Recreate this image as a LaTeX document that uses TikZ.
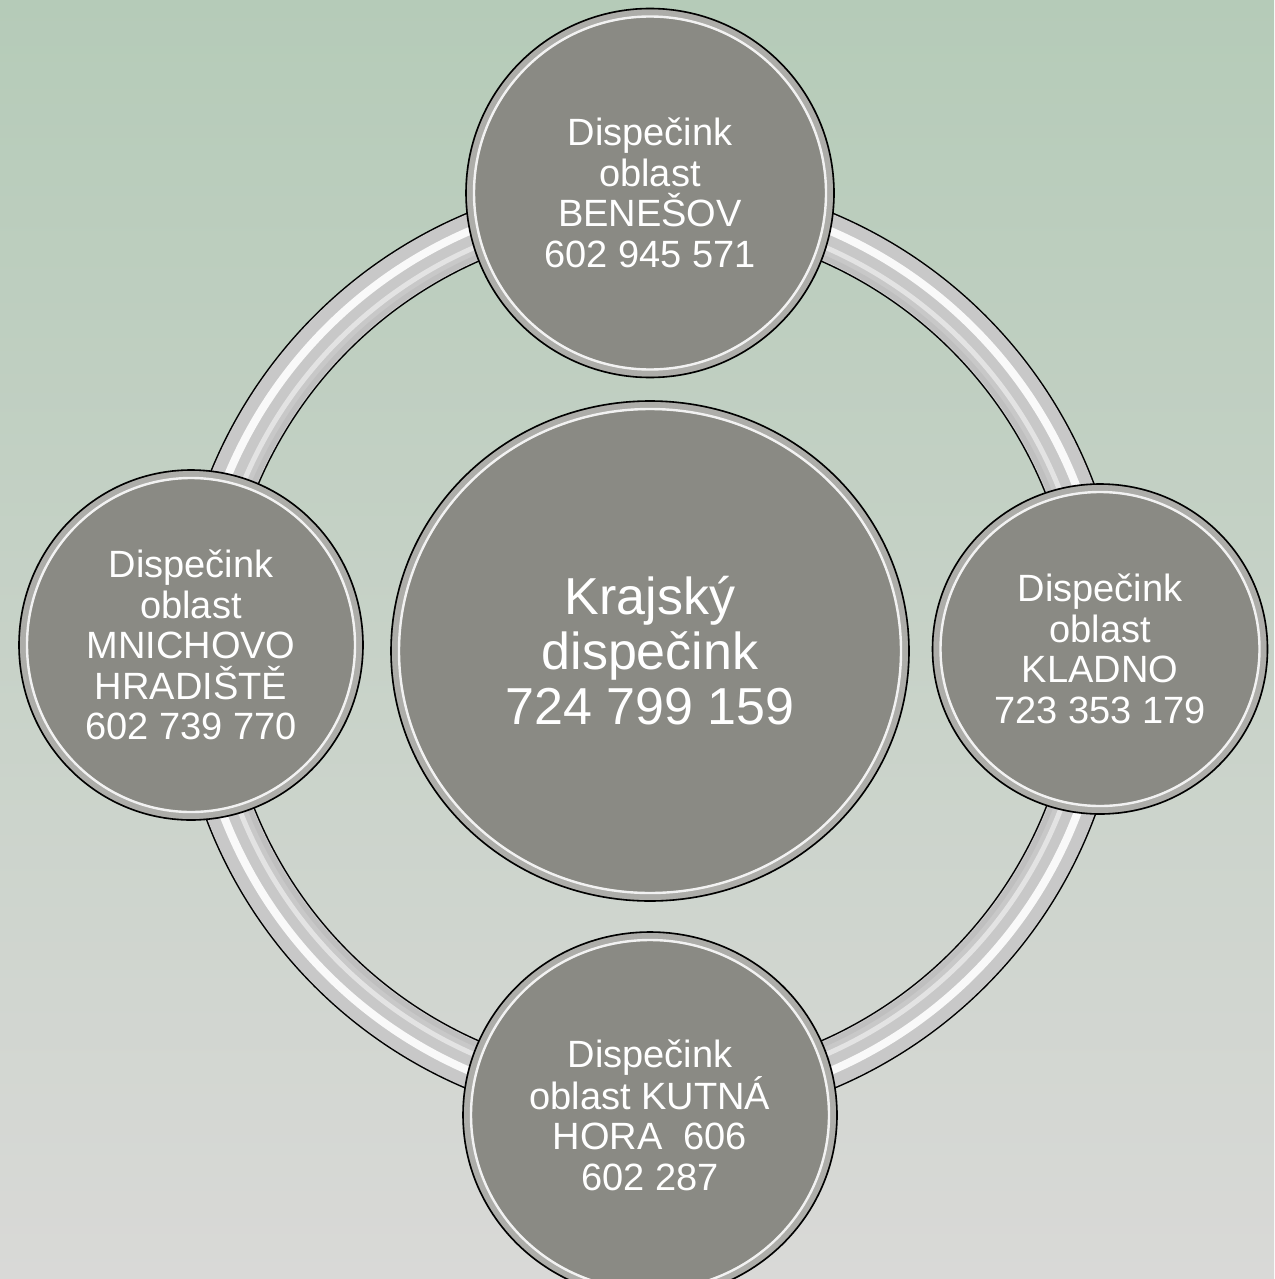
\documentclass[tikz,border=0pt]{standalone}
\usepackage{fontspec}
\setmainfont{Liberation Sans}
\usetikzlibrary{shapes.geometric}
\definecolor{bgtop}{RGB}{181,203,184}
\definecolor{bgbot}{RGB}{217,217,215}
\definecolor{discfill}{RGB}{138,138,132}
\definecolor{ringgray}{RGB}{200,200,200}
\tikzset{
  disc/.style={ellipse, fill=discfill, inner sep=0pt, text=white, align=center,
    font=\fontsize{38}{40.5}\selectfont},
  bigdisc/.style={disc, font=\fontsize{52}{55}\selectfont},
}
\newcommand\discrim[3]{%
  \draw[white, line width=8pt, opacity=0.30] (#1.center) ellipse [x radius=#2pt-5pt, y radius=#3pt-5pt];
  \draw[white, line width=2.4pt, opacity=0.85] (#1.center) ellipse [x radius=#2pt-8pt, y radius=#3pt-8pt];
  \draw[black, line width=1.6pt] (#1.center) ellipse [x radius=#2pt, y radius=#3pt];
}
\begin{document}
\begin{tikzpicture}[x=1pt, y=-1pt]
\useasboundingbox (0,0) rectangle (1274,1279);
\clip (0,0) rectangle (1274,1279);
\shade[top color=bgtop, bottom color=bgbot] (0,0) rectangle (1274,1279);
% ring
\coordinate (ringc) at (650,651);
\draw[line width=50pt, black] (ringc) circle [radius=450pt];
\draw[line width=47pt, ringgray] (ringc) circle [radius=450pt];
\draw[line width=8pt, white, opacity=0.9] (ringc) circle [radius=457pt];
\draw[line width=5pt, white, opacity=0.5] (ringc) circle [radius=440pt];
\draw[line width=5pt, gray, opacity=0.12] (ringc) circle [radius=430pt];
% discs
\node[bigdisc, minimum width=518pt, minimum height=500pt] (center) at (650,651)
  {Krajský\\dispečink\\724 799 159};
\discrim{center}{259}{250}
\node[disc, minimum width=368pt, minimum height=369pt] (top) at (650,193)
  {Dispečink\\oblast\\BENEŠOV\\602 945 571};
\discrim{top}{184}{184.5}
\node[disc, minimum width=335pt, minimum height=330pt] (right) at (1100,649)
  {Dispečink\\oblast\\KLADNO\\723 353 179};
\discrim{right}{167.5}{165}
\node[disc, minimum width=344pt, minimum height=350pt] (left) at (191,645)
  {Dispečink\\oblast\\MNICHOVO\\HRADIŠTĚ\\602 739 770};
\discrim{left}{172}{175}
\node[disc, minimum width=374pt, minimum height=366pt] (bottom) at (650,1115)
  {Dispečink\\oblast KUTNÁ\\HORA\ \ 606\\602 287};
\discrim{bottom}{187}{183}
\end{tikzpicture}
\end{document}
